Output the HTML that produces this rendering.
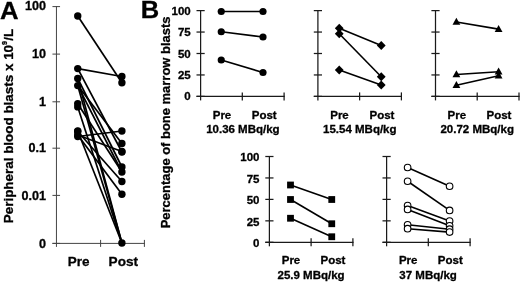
<!DOCTYPE html>
<html><head><meta charset="utf-8"><title>Figure</title>
<style>
html,body{margin:0;padding:0;background:#fff;}
svg{display:block;will-change:transform;font-family:'Liberation Sans', sans-serif;font-weight:bold;fill:#000;}
text{stroke:#000;stroke-width:0.3px;}
</style></head>
<body>
<svg width="520" height="282" viewBox="0 0 520 282">
<rect x="0" y="0" width="520" height="282" fill="#fff"/>
<text transform="translate(0.1,18.7) scale(1.05,1)" font-size="24.5">A</text>
<line x1="56.45" y1="6.1" x2="56.45" y2="246.9" stroke="#444" stroke-width="1.0"/>
<line x1="52.45" y1="243.4" x2="144.9" y2="243.4" stroke="#444" stroke-width="1.0"/>
<line x1="52.45" y1="6.6" x2="60.050000000000004" y2="6.6" stroke="#444" stroke-width="1.0"/>
<text x="45.9" y="10.4" font-size="12.6" text-anchor="end" >100</text>
<line x1="52.45" y1="54.1" x2="60.050000000000004" y2="54.1" stroke="#444" stroke-width="1.0"/>
<text x="45.9" y="58.300000000000004" font-size="12.6" text-anchor="end" >10</text>
<line x1="52.45" y1="101.8" x2="60.050000000000004" y2="101.8" stroke="#444" stroke-width="1.0"/>
<text x="45.9" y="106.0" font-size="12.6" text-anchor="end" >1</text>
<line x1="52.45" y1="148.2" x2="60.050000000000004" y2="148.2" stroke="#444" stroke-width="1.0"/>
<text x="45.9" y="152.39999999999998" font-size="12.6" text-anchor="end" >0.1</text>
<line x1="52.45" y1="195.4" x2="60.050000000000004" y2="195.4" stroke="#444" stroke-width="1.0"/>
<text x="45.9" y="199.6" font-size="12.6" text-anchor="end" >0.01</text>
<line x1="52.45" y1="243.4" x2="60.050000000000004" y2="243.4" stroke="#444" stroke-width="1.0"/>
<text x="45.9" y="247.6" font-size="12.6" text-anchor="end" >0</text>
<line x1="100.6" y1="239.9" x2="100.6" y2="246.9" stroke="#444" stroke-width="1.0"/>
<line x1="144.4" y1="239.9" x2="144.4" y2="246.9" stroke="#444" stroke-width="1.0"/>
<text x="78.6" y="266.4" font-size="13.5" text-anchor="middle" >Pre</text>
<text x="123.3" y="266.4" font-size="13.6" text-anchor="middle" >Post</text>
<text transform="translate(12.7,223.2) rotate(-90)" font-size="13.7" textLength="194.3" lengthAdjust="spacingAndGlyphs">Peripheral blood blasts x 10<tspan font-size="7.5" dy="-5.4">9</tspan><tspan dy="5.4">/L</tspan></text>
<line x1="77.75" y1="16" x2="121.9" y2="82.75" stroke="#000" stroke-width="1.7"/>
<line x1="77.75" y1="68.6" x2="121.9" y2="76.5" stroke="#000" stroke-width="1.7"/>
<line x1="77.75" y1="68.6" x2="121.9" y2="152" stroke="#000" stroke-width="1.7"/>
<line x1="77.75" y1="78.5" x2="121.9" y2="167" stroke="#000" stroke-width="1.7"/>
<line x1="77.75" y1="78.5" x2="121.9" y2="243" stroke="#000" stroke-width="1.7"/>
<line x1="77.75" y1="85.6" x2="121.9" y2="143.5" stroke="#000" stroke-width="1.7"/>
<line x1="77.75" y1="85.6" x2="121.9" y2="172" stroke="#000" stroke-width="1.7"/>
<line x1="77.75" y1="85.6" x2="121.9" y2="243" stroke="#000" stroke-width="1.7"/>
<line x1="77.75" y1="103.7" x2="121.9" y2="172" stroke="#000" stroke-width="1.7"/>
<line x1="77.75" y1="106.9" x2="121.9" y2="243" stroke="#000" stroke-width="1.7"/>
<line x1="77.75" y1="136.5" x2="121.9" y2="131" stroke="#000" stroke-width="1.7"/>
<line x1="77.75" y1="135" x2="121.9" y2="151.5" stroke="#000" stroke-width="1.7"/>
<line x1="77.75" y1="131" x2="121.9" y2="243" stroke="#000" stroke-width="1.7"/>
<line x1="77.75" y1="135" x2="121.9" y2="194.3" stroke="#000" stroke-width="1.7"/>
<line x1="77.75" y1="131.5" x2="121.9" y2="181.5" stroke="#000" stroke-width="1.7"/>
<circle cx="77.75" cy="16" r="3.7"/>
<circle cx="77.75" cy="68.6" r="3.7"/>
<circle cx="77.75" cy="78.5" r="3.7"/>
<circle cx="77.75" cy="85.6" r="3.7"/>
<circle cx="77.75" cy="103.7" r="3.7"/>
<circle cx="77.75" cy="106.9" r="3.7"/>
<circle cx="77.75" cy="131" r="3.7"/>
<circle cx="77.75" cy="131.5" r="3.7"/>
<circle cx="77.75" cy="135" r="3.7"/>
<circle cx="77.75" cy="136.5" r="3.7"/>
<circle cx="121.9" cy="76.5" r="3.7"/>
<circle cx="121.9" cy="82.75" r="3.7"/>
<circle cx="121.9" cy="131" r="3.7"/>
<circle cx="121.9" cy="143.5" r="3.7"/>
<circle cx="121.9" cy="151.5" r="3.7"/>
<circle cx="121.9" cy="152" r="3.7"/>
<circle cx="121.9" cy="167" r="3.7"/>
<circle cx="121.9" cy="172" r="3.7"/>
<circle cx="121.9" cy="181.5" r="3.7"/>
<circle cx="121.9" cy="194.3" r="3.7"/>
<circle cx="121.9" cy="243" r="3.7"/>
<text transform="translate(140.7,18.3) scale(1.1,1)" font-size="23.2">B</text>
<text transform="translate(170.4,228.3) rotate(-90)" font-size="13" textLength="211.8" lengthAdjust="spacingAndGlyphs">Percentage of bone marrow blasts</text>
<line x1="200.6" y1="10.1" x2="200.6" y2="100.4" stroke="#1a1a1a" stroke-width="1.25"/>
<line x1="196.5" y1="96.4" x2="284.7" y2="96.4" stroke="#1a1a1a" stroke-width="1.25"/>
<line x1="196.5" y1="10.6" x2="204.7" y2="10.6" stroke="#1a1a1a" stroke-width="1.25"/>
<text x="190.7" y="14.6" font-size="11.5" text-anchor="end" >100</text>
<line x1="196.5" y1="32.050000000000004" x2="204.7" y2="32.050000000000004" stroke="#1a1a1a" stroke-width="1.25"/>
<text x="190.7" y="36.050000000000004" font-size="11.5" text-anchor="end" >75</text>
<line x1="196.5" y1="53.50000000000001" x2="204.7" y2="53.50000000000001" stroke="#1a1a1a" stroke-width="1.25"/>
<text x="190.7" y="57.50000000000001" font-size="11.5" text-anchor="end" >50</text>
<line x1="196.5" y1="74.95" x2="204.7" y2="74.95" stroke="#1a1a1a" stroke-width="1.25"/>
<text x="190.7" y="78.95" font-size="11.5" text-anchor="end" >25</text>
<line x1="196.5" y1="96.4" x2="204.7" y2="96.4" stroke="#1a1a1a" stroke-width="1.25"/>
<text x="190.7" y="100.4" font-size="11.5" text-anchor="end" >0</text>
<line x1="242.3" y1="92.4" x2="242.3" y2="100.4" stroke="#1a1a1a" stroke-width="1.25"/>
<line x1="284.1" y1="92.4" x2="284.1" y2="100.4" stroke="#1a1a1a" stroke-width="1.25"/>
<text x="222" y="118.7" font-size="11.5" text-anchor="middle" >Pre</text>
<text x="264.2" y="118.7" font-size="11.5" text-anchor="middle" >Post</text>
<text x="242.9" y="132.7" font-size="11.5" text-anchor="middle" >10.36 MBq/kg</text>
<line x1="221.25" y1="11.5" x2="263" y2="11.5" stroke="#000" stroke-width="1.6"/>
<line x1="221.25" y1="31.75" x2="263" y2="37" stroke="#000" stroke-width="1.6"/>
<line x1="221.25" y1="60" x2="263" y2="72.5" stroke="#000" stroke-width="1.6"/>
<circle cx="221.25" cy="11.5" r="3.6"/>
<circle cx="263" cy="11.5" r="3.6"/>
<circle cx="221.25" cy="31.75" r="3.6"/>
<circle cx="263" cy="37" r="3.6"/>
<circle cx="221.25" cy="60" r="3.6"/>
<circle cx="263" cy="72.5" r="3.6"/>
<line x1="317.9" y1="10.1" x2="317.9" y2="100.4" stroke="#1a1a1a" stroke-width="1.25"/>
<line x1="313.79999999999995" y1="96.4" x2="402.0" y2="96.4" stroke="#1a1a1a" stroke-width="1.25"/>
<line x1="313.79999999999995" y1="10.6" x2="322.0" y2="10.6" stroke="#1a1a1a" stroke-width="1.25"/>
<line x1="313.79999999999995" y1="32.050000000000004" x2="322.0" y2="32.050000000000004" stroke="#1a1a1a" stroke-width="1.25"/>
<line x1="313.79999999999995" y1="53.50000000000001" x2="322.0" y2="53.50000000000001" stroke="#1a1a1a" stroke-width="1.25"/>
<line x1="313.79999999999995" y1="74.95" x2="322.0" y2="74.95" stroke="#1a1a1a" stroke-width="1.25"/>
<line x1="313.79999999999995" y1="96.4" x2="322.0" y2="96.4" stroke="#1a1a1a" stroke-width="1.25"/>
<line x1="359.59999999999997" y1="92.4" x2="359.59999999999997" y2="100.4" stroke="#1a1a1a" stroke-width="1.25"/>
<line x1="401.4" y1="92.4" x2="401.4" y2="100.4" stroke="#1a1a1a" stroke-width="1.25"/>
<text x="339.5" y="118.7" font-size="11.5" text-anchor="middle" >Pre</text>
<text x="382" y="118.7" font-size="11.5" text-anchor="middle" >Post</text>
<text x="359.8" y="132.7" font-size="11.5" text-anchor="middle" >15.54 MBq/kg</text>
<line x1="339.25" y1="28.25" x2="381.25" y2="45.5" stroke="#000" stroke-width="1.6"/>
<line x1="339.25" y1="33.75" x2="381.25" y2="76.75" stroke="#000" stroke-width="1.6"/>
<line x1="339.25" y1="70" x2="381.25" y2="85" stroke="#000" stroke-width="1.6"/>
<polygon points="339.25,23.85 343.65,28.25 339.25,32.65 334.85,28.25"/>
<polygon points="381.25,41.1 385.65,45.5 381.25,49.9 376.85,45.5"/>
<polygon points="339.25,29.35 343.65,33.75 339.25,38.15 334.85,33.75"/>
<polygon points="381.25,72.35 385.65,76.75 381.25,81.15 376.85,76.75"/>
<polygon points="339.25,65.6 343.65,70 339.25,74.4 334.85,70"/>
<polygon points="381.25,80.6 385.65,85 381.25,89.4 376.85,85"/>
<line x1="435.5" y1="10.1" x2="435.5" y2="100.4" stroke="#1a1a1a" stroke-width="1.25"/>
<line x1="431.4" y1="96.4" x2="519.6" y2="96.4" stroke="#1a1a1a" stroke-width="1.25"/>
<line x1="431.4" y1="10.6" x2="439.6" y2="10.6" stroke="#1a1a1a" stroke-width="1.25"/>
<line x1="431.4" y1="32.050000000000004" x2="439.6" y2="32.050000000000004" stroke="#1a1a1a" stroke-width="1.25"/>
<line x1="431.4" y1="53.50000000000001" x2="439.6" y2="53.50000000000001" stroke="#1a1a1a" stroke-width="1.25"/>
<line x1="431.4" y1="74.95" x2="439.6" y2="74.95" stroke="#1a1a1a" stroke-width="1.25"/>
<line x1="431.4" y1="96.4" x2="439.6" y2="96.4" stroke="#1a1a1a" stroke-width="1.25"/>
<line x1="477.2" y1="92.4" x2="477.2" y2="100.4" stroke="#1a1a1a" stroke-width="1.25"/>
<line x1="519.0" y1="92.4" x2="519.0" y2="100.4" stroke="#1a1a1a" stroke-width="1.25"/>
<text x="456.8" y="118.7" font-size="11.5" text-anchor="middle" >Pre</text>
<text x="499" y="118.7" font-size="11.5" text-anchor="middle" >Post</text>
<text x="477.2" y="132.7" font-size="11.5" text-anchor="middle" >20.72 MBq/kg</text>
<line x1="456.4" y1="22.0" x2="498.6" y2="29.1" stroke="#000" stroke-width="1.6"/>
<line x1="456.4" y1="74.5" x2="498.6" y2="71.8" stroke="#000" stroke-width="1.6"/>
<line x1="456.4" y1="85.2" x2="498.6" y2="75.7" stroke="#000" stroke-width="1.6"/>
<polygon points="456.4,17.8 460.29999999999995,24.8 452.5,24.8"/>
<polygon points="498.6,24.900000000000002 502.5,31.900000000000002 494.70000000000005,31.900000000000002"/>
<polygon points="456.4,70.3 460.29999999999995,77.3 452.5,77.3"/>
<polygon points="498.6,67.6 502.5,74.6 494.70000000000005,74.6"/>
<polygon points="456.4,81.0 460.29999999999995,88.0 452.5,88.0"/>
<polygon points="498.6,71.5 502.5,78.5 494.70000000000005,78.5"/>
<line x1="269.4" y1="156.0" x2="269.4" y2="246.3" stroke="#1a1a1a" stroke-width="1.25"/>
<line x1="265.29999999999995" y1="242.3" x2="353.5" y2="242.3" stroke="#1a1a1a" stroke-width="1.25"/>
<line x1="265.29999999999995" y1="156.5" x2="273.5" y2="156.5" stroke="#1a1a1a" stroke-width="1.25"/>
<text x="259.5" y="161.2" font-size="11.5" text-anchor="end" >100</text>
<line x1="265.29999999999995" y1="177.95" x2="273.5" y2="177.95" stroke="#1a1a1a" stroke-width="1.25"/>
<text x="259.5" y="182.64999999999998" font-size="11.5" text-anchor="end" >75</text>
<line x1="265.29999999999995" y1="199.4" x2="273.5" y2="199.4" stroke="#1a1a1a" stroke-width="1.25"/>
<text x="259.5" y="204.1" font-size="11.5" text-anchor="end" >50</text>
<line x1="265.29999999999995" y1="220.85000000000002" x2="273.5" y2="220.85000000000002" stroke="#1a1a1a" stroke-width="1.25"/>
<text x="259.5" y="225.55" font-size="11.5" text-anchor="end" >25</text>
<line x1="265.29999999999995" y1="242.3" x2="273.5" y2="242.3" stroke="#1a1a1a" stroke-width="1.25"/>
<text x="259.5" y="247.0" font-size="11.5" text-anchor="end" >0</text>
<line x1="311.09999999999997" y1="238.3" x2="311.09999999999997" y2="246.3" stroke="#1a1a1a" stroke-width="1.25"/>
<line x1="352.9" y1="238.3" x2="352.9" y2="246.3" stroke="#1a1a1a" stroke-width="1.25"/>
<text x="291" y="264.2" font-size="11.5" text-anchor="middle" >Pre</text>
<text x="333" y="264.2" font-size="11.5" text-anchor="middle" >Post</text>
<text x="311.1" y="278.8" font-size="11.5" text-anchor="middle" >25.9 MBq/kg</text>
<line x1="290.5" y1="185" x2="331.75" y2="199.5" stroke="#000" stroke-width="1.6"/>
<line x1="290.5" y1="199.5" x2="331.75" y2="223.75" stroke="#000" stroke-width="1.6"/>
<line x1="290.5" y1="218.25" x2="331.75" y2="236.75" stroke="#000" stroke-width="1.6"/>
<rect x="287.1" y="181.6" width="6.8" height="6.8"/>
<rect x="328.35" y="196.1" width="6.8" height="6.8"/>
<rect x="287.1" y="196.1" width="6.8" height="6.8"/>
<rect x="328.35" y="220.35" width="6.8" height="6.8"/>
<rect x="287.1" y="214.85" width="6.8" height="6.8"/>
<rect x="328.35" y="233.35" width="6.8" height="6.8"/>
<line x1="386.6" y1="156.0" x2="386.6" y2="246.3" stroke="#1a1a1a" stroke-width="1.25"/>
<line x1="382.5" y1="242.3" x2="470.70000000000005" y2="242.3" stroke="#1a1a1a" stroke-width="1.25"/>
<line x1="382.5" y1="156.5" x2="390.70000000000005" y2="156.5" stroke="#1a1a1a" stroke-width="1.25"/>
<line x1="382.5" y1="177.95" x2="390.70000000000005" y2="177.95" stroke="#1a1a1a" stroke-width="1.25"/>
<line x1="382.5" y1="199.4" x2="390.70000000000005" y2="199.4" stroke="#1a1a1a" stroke-width="1.25"/>
<line x1="382.5" y1="220.85000000000002" x2="390.70000000000005" y2="220.85000000000002" stroke="#1a1a1a" stroke-width="1.25"/>
<line x1="382.5" y1="242.3" x2="390.70000000000005" y2="242.3" stroke="#1a1a1a" stroke-width="1.25"/>
<line x1="428.3" y1="238.3" x2="428.3" y2="246.3" stroke="#1a1a1a" stroke-width="1.25"/>
<line x1="470.1" y1="238.3" x2="470.1" y2="246.3" stroke="#1a1a1a" stroke-width="1.25"/>
<text x="408.2" y="264.2" font-size="11.5" text-anchor="middle" >Pre</text>
<text x="450.3" y="264.2" font-size="11.5" text-anchor="middle" >Post</text>
<text x="428.1" y="278.8" font-size="11.5" text-anchor="middle" >37 MBq/kg</text>
<line x1="407.6" y1="167.5" x2="449.6" y2="186.25" stroke="#000" stroke-width="1.6"/>
<line x1="407.6" y1="181.25" x2="449.6" y2="210.4" stroke="#000" stroke-width="1.6"/>
<line x1="407.6" y1="205.6" x2="449.6" y2="221" stroke="#000" stroke-width="1.6"/>
<line x1="407.6" y1="209.4" x2="449.6" y2="225.8" stroke="#000" stroke-width="1.6"/>
<line x1="407.6" y1="224.8" x2="449.6" y2="229.2" stroke="#000" stroke-width="1.6"/>
<line x1="407.6" y1="228.7" x2="449.6" y2="232.1" stroke="#000" stroke-width="1.6"/>
<circle cx="407.6" cy="167.5" r="3.3" fill="#fff" stroke="#000" stroke-width="1.1"/>
<circle cx="449.6" cy="186.25" r="3.3" fill="#fff" stroke="#000" stroke-width="1.1"/>
<circle cx="407.6" cy="181.25" r="3.3" fill="#fff" stroke="#000" stroke-width="1.1"/>
<circle cx="449.6" cy="210.4" r="3.3" fill="#fff" stroke="#000" stroke-width="1.1"/>
<circle cx="407.6" cy="205.6" r="3.3" fill="#fff" stroke="#000" stroke-width="1.1"/>
<circle cx="449.6" cy="221" r="3.3" fill="#fff" stroke="#000" stroke-width="1.1"/>
<circle cx="407.6" cy="209.4" r="3.3" fill="#fff" stroke="#000" stroke-width="1.1"/>
<circle cx="449.6" cy="225.8" r="3.3" fill="#fff" stroke="#000" stroke-width="1.1"/>
<circle cx="407.6" cy="224.8" r="3.3" fill="#fff" stroke="#000" stroke-width="1.1"/>
<circle cx="449.6" cy="229.2" r="3.3" fill="#fff" stroke="#000" stroke-width="1.1"/>
<circle cx="407.6" cy="228.7" r="3.3" fill="#fff" stroke="#000" stroke-width="1.1"/>
<circle cx="449.6" cy="232.1" r="3.3" fill="#fff" stroke="#000" stroke-width="1.1"/>
</svg>
</body></html>
